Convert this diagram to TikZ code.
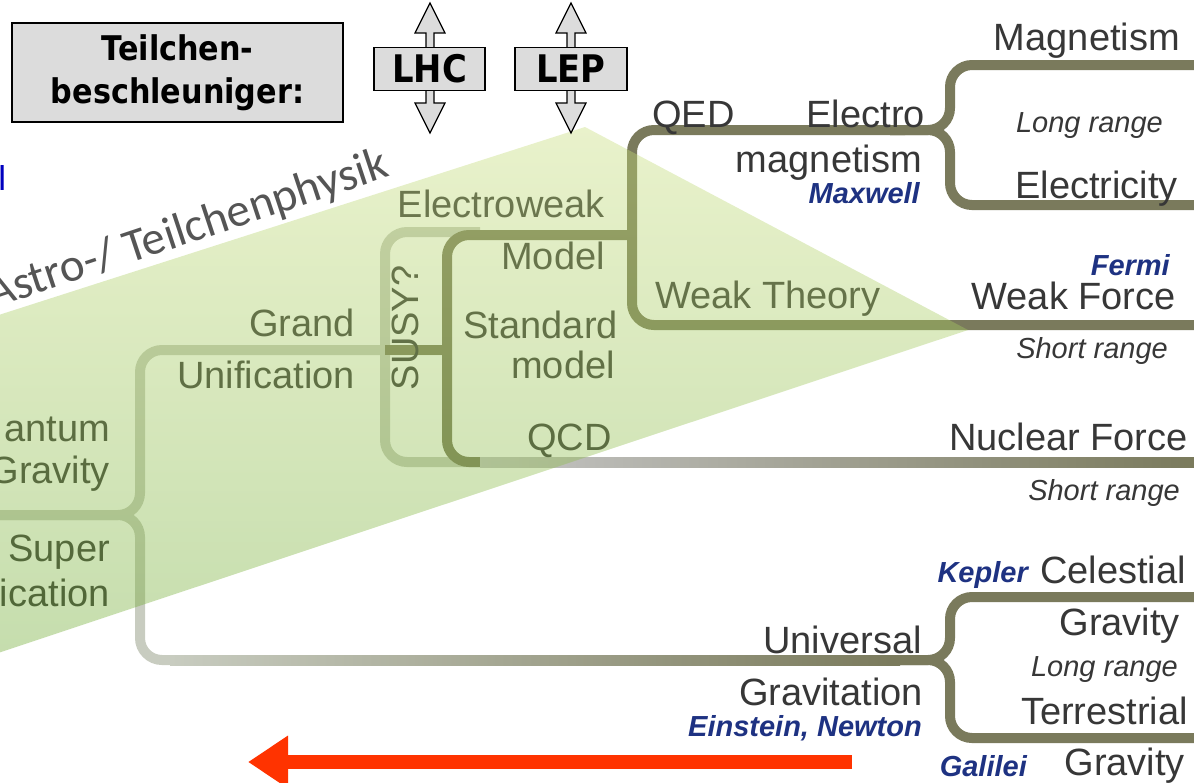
\documentclass[tikz,border=0pt]{standalone}
\usepackage{fontspec}
\setmainfont{Liberation Sans}
\newfontfamily\boxfont[FakeStretch=0.89]{DejaVu Sans}
\newfontfamily\slidefont{Carlito}
\usetikzlibrary{arrows.meta}

\definecolor{branchcol}{RGB}{122,122,92}
\definecolor{lightcol}{RGB}{200,204,192}
\definecolor{labelcol}{RGB}{55,55,55}
\definecolor{namecol}{RGB}{30,50,130}
\definecolor{boxgray}{RGB}{220,220,220}
\definecolor{arrowred}{RGB}{255,51,0}
\definecolor{wedgetop}{RGB}{200,222,125}
\definecolor{wedgebot}{RGB}{110,170,50}

\begin{document}
\begin{tikzpicture}[
    x=1pt, y=-1pt,
    lbl/.style={font=\fontsize{38}{40}\selectfont, text=labelcol, inner sep=0pt},
    rng/.style={font=\fontsize{29}{31}\selectfont\itshape, text=labelcol, inner sep=0pt},
    who/.style={font=\fontsize{29}{31}\selectfont\bfseries\itshape, text=namecol, inner sep=0pt},
    branch/.style={draw=branchcol, line width=10pt, rounded corners=22pt},
    faint/.style={draw=lightcol, line width=10pt, rounded corners=22pt},
    accbox/.style={draw, line width=1.5pt, fill=boxgray, font=\boxfont\bfseries\fontsize{38}{40}\selectfont, minimum height=43pt, inner sep=0pt},
    accarrow/.style={draw, line width=1.2pt, fill=boxgray},
    redarrow/.style={draw=arrowred, line width=14pt, -{Triangle[length=40pt, width=50pt]}}
]
\useasboundingbox (0,0) rectangle (1194,782);
\clip (0,0) rectangle (1194,782);

% Branches
\coordinate (root) at (-20,515);
\coordinate (gu) at (447,350);
\coordinate (sm) at (632,235);

\draw[faint] (root) -| (140,350) -- (gu);
\draw[faint] (root) -| (140,660) -- (180,660);
\shade[left color=lightcol, right color=branchcol] (170,655) rectangle (900,665);
\draw[branch] (890,660) -| (950,597) -- (1194,597);
\draw[branch] (890,660) -| (950,738) -- (1194,738);

\draw[faint] (480,232) -| (385,462) -- (480,462);
\draw[branch] (385,350) -- (gu);
\draw[branch] (sm) -| (447,462) -- (490,462);
\shade[left color=gray!45, right color=branchcol] (480,457) rectangle (1194,467);

\draw[branch] (905,130) -| (632,325) -- (1194,325);
\draw[branch] (890,130) -| (950,65) -- (1194,65);
\draw[branch] (890,130) -| (950,205) -- (1194,205);

% Labels
\node[lbl, anchor=base east] (magn) at (1180,50) {Magnetism};
\node[rng, anchor=base east] (longem) at (1163,132) {Long range};
\node[lbl, anchor=base east] (elec) at (1178,198) {Electricity};
\node[who, anchor=base east] (fermi) at (1170,275) {Fermi};
\node[lbl, anchor=base east] (weakf) at (1176,309) {Weak Force};
\node[rng, anchor=base east] (shortw) at (1168,358) {Short range};
\node[lbl, anchor=base east] (nucl) at (1188,450) {Nuclear Force};
\node[rng, anchor=base east] (shortn) at (1180,500) {Short range};
\node[who, anchor=base east] (kepler) at (1028,582) {Kepler};
\node[lbl, anchor=base east] (celest) at (1186,583) {Celestial};
\node[lbl, anchor=base east] (gravc) at (1180,635) {Gravity};
\node[rng, anchor=base east] (longgr) at (1178,676) {Long range};
\node[lbl, anchor=base east] (terr) at (1188,724) {Terrestrial};
\node[who, anchor=base east] (galilei) at (1027,776) {Galilei};
\node[lbl, anchor=base east] (gravt) at (1185,775) {Gravity};

\node[lbl, anchor=base east] (univ) at (922,653) {Universal};
\node[lbl, anchor=base east] (gravit) at (923,705) {Gravitation};
\node[who, anchor=base east] (newton) at (922,736) {Einstein, Newton};

\node[lbl, anchor=base west] (qed) at (652,127) {QED};
\node[lbl, anchor=base east] (electro) at (925,127) {Electro};
\node[lbl, anchor=base east] (magnet) at (922,172) {magnetism};
\node[who, anchor=base east] (maxwell) at (920,203) {Maxwell};

\node[lbl, anchor=base east] (ewk) at (605,217) {Electroweak};
\node[lbl, anchor=base east] (model) at (605,269) {Model};
\node[lbl, anchor=base west] (weakth) at (655,308) {Weak Theory};
\node[lbl, anchor=base east] (stand) at (618,338) {Standard};
\node[lbl, anchor=base east] (smodel) at (615,378) {model};
\node[lbl, anchor=base east] (qcd) at (612,450) {QCD};
\node[lbl, rotate=90] (susy) at (405,328) {SUSY?};
\node[lbl, anchor=base east] (grand) at (355,336) {Grand};
\node[lbl, anchor=base east] (unif) at (355,388) {Unification};

\node[lbl, anchor=base west] (quant) at (4,441) {antum};
\node[lbl, anchor=base east] (gravq) at (110,483) {Gravity};
\node[lbl, anchor=base east] (super) at (110,561) {Super};
\node[lbl, anchor=base east] (supunif) at (110,606) {ication};

% Particle physics wedge
\shade[top color=wedgetop, bottom color=wedgebot, fill opacity=0.4]
    (585,127) -- (968,330) -- (-20,659) -- (-20,321) -- cycle;
\node[font=\slidefont\fontsize{47}{49}\selectfont, text=labelcol!85, rotate=18.4, anchor=base west, inner sep=0pt] (astro) at (-8,309) {Astro-/ Teilchenphysik};
\node[font=\slidefont\fontsize{36}{40}\selectfont, text=blue!75!black, anchor=base west, inner sep=0pt] (cut) at (-2,190) {l};

% Accelerators
\foreach \ax in {430,571}
    \draw[accarrow] (\ax-4,33) -- (\ax-15,33) -- (\ax,3) -- (\ax+15,33) -- (\ax+4,33) -- (\ax+4,103)
        -- (\ax+15,103) -- (\ax,133) -- (\ax-15,103) -- (\ax-4,103) -- cycle;
\node[accbox, minimum width=111pt] (lhc) at (429.5,69) {LHC};
\node[accbox, minimum width=112pt] (lep) at (571,69) {LEP};
\node[draw, line width=2pt, fill=boxgray, minimum width=331pt, minimum height=99pt, align=center,
    font=\boxfont\bfseries\fontsize{34}{43}\selectfont] (accel) at (177.5,72.5) {Teilchen-\\beschleuniger:};

% Energy arrow
\coordinate (rtail) at (852,762);
\coordinate (rtip) at (248,762);
\draw[redarrow] (rtail) -- (rtip);

\end{tikzpicture}
\end{document}
